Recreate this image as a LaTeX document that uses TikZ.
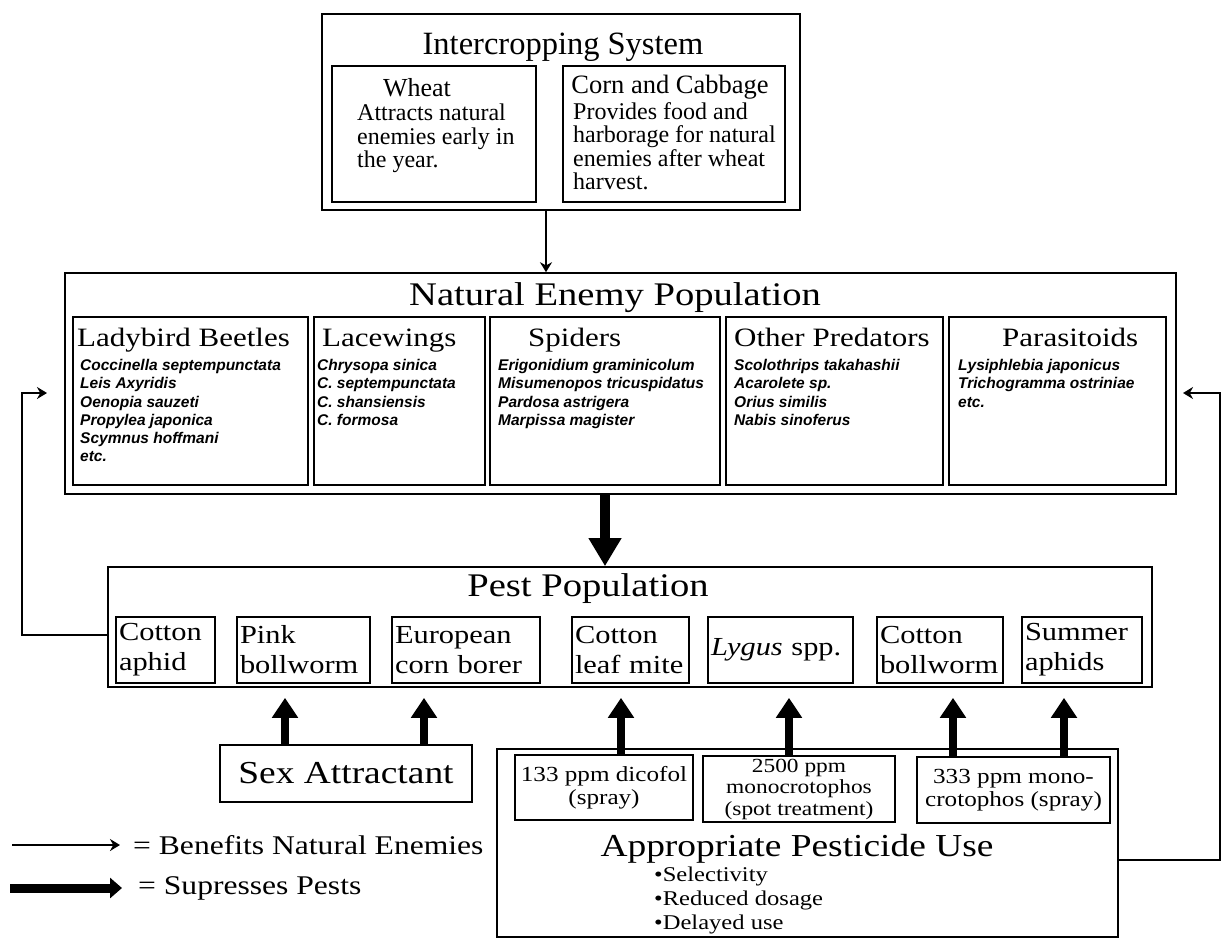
\documentclass[tikz,border=0pt]{standalone}
\usepackage{fontspec}
\setmainfont{Liberation Serif}
\newfontfamily\widefont[FakeStretch=1.17]{Liberation Serif}
\newfontfamily\spfont{Liberation Sans}
\usetikzlibrary{arrows.meta}
\tikzset{
  box/.style={draw, line width=1.6pt, inner sep=0pt},
  subbox/.style={draw, line width=1.3pt, inner sep=0pt},
  bigtitle/.style={font=\widefont\fontsize{33}{36}\selectfont, inner sep=0pt, anchor=base},
  subtitle/.style={font=\widefont\fontsize{26.5}{30}\selectfont, inner sep=0pt, anchor=base west},
  species/.style={font=\spfont\bfseries\itshape\fontsize{15.5}{18.3}\selectfont, align=left, inner sep=0pt, anchor=north west},
  cropbody/.style={font=\fontsize{24}{23.5}\selectfont, align=left, inner sep=0pt, anchor=north west},
  pestbox/.style={draw, line width=1.4pt, font=\widefont\fontsize{26}{30}\selectfont, align=left, inner xsep=3pt, inner ysep=0pt, minimum height=66pt},
  dosebox/.style={draw, line width=1.4pt, font=\widefont\fontsize{21.5}{23.5}\selectfont, align=center, inner sep=0pt},
  legendtext/.style={font=\widefont\fontsize{27}{30}\selectfont, inner sep=0pt, anchor=west},
  benefit/.style={line width=1.8pt, -{Stealth[length=10pt,width=12pt]}},
  suppress/.style={line width=8pt, -{Triangle[length=20pt,width=25pt]}},
  bigsuppress/.style={line width=10pt, -{Triangle[length=28pt,width=31pt]}}
}

\begin{document}
\begin{tikzpicture}[x=1pt,y=-1pt]
\useasboundingbox (0,0) rectangle (1223,940);

% Intercropping system
\node[box, minimum width=478pt, minimum height=196pt] (icsys) at (561,112) {};
\node[font=\fontsize{32.5}{36}\selectfont, inner sep=0pt, anchor=base] (icsysttl) at (563,54) {Intercropping System};
\node[subbox, minimum width=204pt, minimum height=136pt] (wheat) at (434,134) {};
\node[font=\fontsize{26}{30}\selectfont, inner sep=0pt, anchor=base] (wheatttl) at (417,96) {Wheat};
\node[cropbody] (wheattxt) at (357,104) {Attracts natural\\enemies early in\\the year.};
\node[subbox, minimum width=222pt, minimum height=136pt] (corn) at (674,134) {};
\node[font=\fontsize{26.5}{30}\selectfont, inner sep=0pt, anchor=base] (cornttl) at (670,93) {Corn and Cabbage};
\node[cropbody] (corntxt) at (573,102) {Provides food and\\harborage for natural\\enemies after wheat\\harvest.};

% Natural enemy population
\node[box, minimum width=1111pt, minimum height=221pt] (nep) at (620.5,383.5) {};
\node[bigtitle] (nepttl) at (615,305) {Natural Enemy Population};
\node[subbox, minimum width=235pt, minimum height=168pt] (lady) at (190.5,401) {};
\node[subbox, minimum width=171pt, minimum height=168pt] (lace) at (399.5,401) {};
\node[subbox, minimum width=230pt, minimum height=168pt] (spid) at (605,401) {};
\node[subbox, minimum width=217pt, minimum height=168pt] (othr) at (834.5,401) {};
\node[subbox, minimum width=217pt, minimum height=168pt] (para) at (1057.5,401) {};
\node[subtitle] (ladyttl) at (77,346) {Ladybird Beetles};
\node[subtitle] (lacettl) at (322,346) {Lacewings};
\node[subtitle] (spidttl) at (528,346) {Spiders};
\node[subtitle] (othrttl) at (734,346) {Other Predators};
\node[subtitle] (parattl) at (1002,346) {Parasitoids};
\node[species] (ladytxt) at (80,359) {Coccinella septempunctata\\Leis Axyridis\\Oenopia sauzeti\\Propylea japonica\\Scymnus hoffmani\\etc.};
\node[species] (lacetxt) at (317,359) {Chrysopa sinica\\C. septempunctata\\C. shansiensis\\C. formosa};
\node[species] (spidtxt) at (498,359) {Erigonidium graminicolum\\Misumenopos tricuspidatus\\Pardosa astrigera\\Marpissa magister};
\node[species] (othrtxt) at (734,359) {Scolothrips takahashii\\Acarolete sp.\\Orius similis\\Nabis sinoferus};
\node[species] (paratxt) at (958,359) {Lysiphlebia japonicus\\Trichogramma ostriniae\\etc.};

% Pest population
\node[box, minimum width=1044pt, minimum height=120pt] (pest) at (630,627) {};
\node[bigtitle] (pestttl) at (588,596) {Pest Population};
\node[pestbox, text width=93pt] (aphid) at (165.5,650) {Cotton\\aphid};
\node[pestbox, text width=127pt] (pink) at (303.5,650) {Pink\\bollworm};
\node[pestbox, text width=142pt] (ecb) at (466,650) {European\\corn borer};
\node[pestbox, text width=111pt] (mite) at (630.5,650) {Cotton\\leaf mite};
\node[pestbox, text width=139pt] (lygus) at (780.5,650) {\textit{Lygus} spp.};
\node[pestbox, text width=120pt] (cbw) at (940,650) {Cotton\\bollworm};
\node[pestbox, text width=114pt] (summ) at (1082,650) {Summer\\aphids};

% Sex attractant
\node[box, minimum width=252pt, minimum height=57pt, font=\widefont\fontsize{32}{36}\selectfont] (sexa) at (346,773.5) {Sex Attractant};

% Appropriate pesticide use
\node[box, minimum width=621pt, minimum height=188pt] (apu) at (807.5,843) {};
\node[dosebox, minimum width=178pt, minimum height=65pt] (dico) at (604,787.5) {133 ppm dicofol\\(spray)};
\node[dosebox, minimum width=192pt, minimum height=66pt, font=\widefont\fontsize{20}{21.5}\selectfont] (mono) at (799,789) {2500 ppm\\monocrotophos\\(spot treatment)};
\node[dosebox, minimum width=193pt, minimum height=66pt] (mnc) at (1013.5,790) {333 ppm mono-\\crotophos (spray)};
\node[bigtitle, font=\widefont\fontsize{32}{36}\selectfont] (aputtl) at (797,856) {Appropriate Pesticide Use};
\node[cropbody, font=\widefont\fontsize{21}{24}\selectfont] (aputxt) at (654,867) {\textbullet Selectivity\\\textbullet Reduced dosage\\\textbullet Delayed use};

% Draw arrows between the levels
\draw[benefit] ([xshift=-15pt]icsys.south) -- ([xshift=-15pt]icsys.south |- nep.north);
\draw[bigsuppress] ([xshift=-15.5pt]nep.south) -- ([xshift=-15.5pt]nep.south |- pest.north);
\draw[suppress, shorten >=10pt] ([xshift=-61pt]sexa.north) -- ([xshift=-61pt]sexa.north |- pest.south);
\draw[suppress, shorten >=10pt] ([xshift=78pt]sexa.north) -- ([xshift=78pt]sexa.north |- pest.south);
\draw[suppress, shorten >=10pt] ([xshift=17pt]dico.north) -- ([xshift=17pt]dico.north |- pest.south);
\draw[suppress, shorten >=10pt] ([xshift=-10pt]mono.north) -- ([xshift=-10pt]mono.north |- pest.south);
\draw[suppress, shorten >=10pt] ([xshift=-60.5pt]mnc.north) -- ([xshift=-60.5pt]mnc.north |- pest.south);
\draw[suppress, shorten >=10pt] ([xshift=50.5pt]mnc.north) -- ([xshift=50.5pt]mnc.north |- pest.south);

% Feedback to natural enemies
\coordinate (lfb) at (22,393);
\coordinate (lfbtip) at (47,393);
\draw[benefit] ([yshift=-8pt]pest.west) -| (lfb) -- (lfbtip);
\coordinate (rfb) at (1220,393);
\coordinate (rfbtip) at (1183,393);
\draw[benefit] ([yshift=-17pt]apu.east) -| (rfb) -- (rfbtip);

% Legend
\coordinate (lga) at (12,845);
\coordinate (lgatip) at (120,845);
\draw[benefit] (lga) -- (lgatip);
\node[legendtext] (lgatxt) at (133,845) {= Benefits Natural Enemies};
\coordinate (lgb) at (10,888);
\coordinate (lgbtip) at (122,888);
\draw[line width=9pt, -{Triangle[length=12pt,width=20pt]}] (lgb) -- (lgbtip);
\node[legendtext] (lgbtxt) at (138,888) {= Supresses Pests};

\end{tikzpicture}
\end{document}
